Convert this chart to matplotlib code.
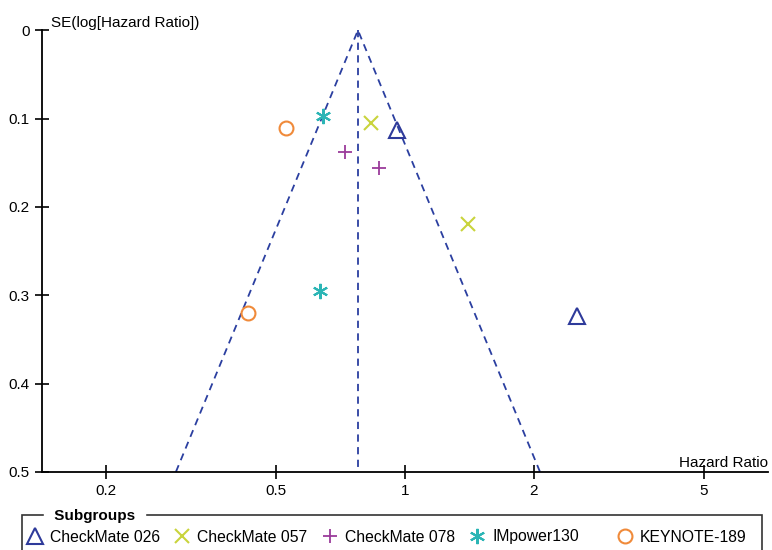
import numpy as np
import matplotlib.pyplot as plt
from matplotlib.patches import Rectangle

plt.rcParams['font.family'] = ['Liberation Sans', 'DejaVu Sans']

# values
groups = ["CheckMate 026", "CheckMate 057", "CheckMate 078", "IMpower130", "KEYNOTE-189"]
hr_026 = [0.958, 2.52]
se_026 = [0.113, 0.324]
hr_057 = [0.832, 1.406]
se_057 = [0.105, 0.219]
hr_078 = [0.723, 0.869]
se_078 = [0.138, 0.156]
hr_imp = [0.642, 0.632]
se_imp = [0.097, 0.295]
hr_key = [0.528, 0.430]
se_key = [0.111, 0.320]
pooled_hr = 0.776
se_max = 0.5

x_ticks = [0.2, 0.5, 1, 2, 5]
y_ticks = [0, 0.1, 0.2, 0.3, 0.4, 0.5]

W, H = 772, 550
fig = plt.figure(figsize=(W / 100, H / 100), dpi=100)
ax = fig.add_axes([0.0544, 0.142, 0.9406, 0.803])

# funnel
line_col = "#2B3FA0"
lo = np.exp(np.log(pooled_hr) - 1.96 * se_max)
hi = np.exp(np.log(pooled_hr) + 1.96 * se_max)
ax.plot([lo, pooled_hr, hi], [se_max, 0, se_max], ls=(0, (4, 3)), color=line_col, lw=1.3)
ax.plot([pooled_hr, pooled_hr], [0, se_max], ls=(0, (4, 3)), color=line_col, lw=1.3)

styles = [
    (hr_026, se_026, "^", "#2E3A9A", dict(mfc="none", ms=11, mew=1.5)),
    (hr_057, se_057, "x", "#C9D43C", dict(ms=10, mew=1.5)),
    (hr_078, se_078, "+", "#9B3B9B", dict(ms=10, mew=1.3)),
    (hr_imp, se_imp, (6, 2, 0), "#2BB5B5", dict(ms=11, mew=1.5)),
    (hr_key, se_key, "o", "#F08A3A", dict(mfc="none", ms=10, mew=1.5)),
]
handles = []
for (hx, sy, mk, col, kw), name in zip(styles, groups):
    h, = ax.plot(hx, sy, ls="none", marker=mk, color=col, label=name, **kw)
    handles.append(h)

ax.set_xscale("log")
ax.set_xlim(1 / 7.06, 7.06)
ax.set_ylim(se_max, 0)
ax.set_xticks(x_ticks)
ax.set_xticklabels([str(t) for t in x_ticks])
ax.minorticks_off()
ax.set_yticks(y_ticks)
ax.set_yticklabels(["0", "0.1", "0.2", "0.3", "0.4", "0.5"])
ax.tick_params(direction="inout", length=10, width=1.2, labelsize=11, pad=4)
for s in ["top", "right"]:
    ax.spines[s].set_visible(False)
for s in ["left", "bottom"]:
    ax.spines[s].set_linewidth(1.3)

ax.text(0.012, 1.0, "SE(log[Hazard Ratio])", transform=ax.transAxes, fontsize=11,
        va="bottom", ha="left")
ax.text(1.0, 0.005, "Hazard Ratio", transform=ax.transAxes, fontsize=11,
        va="bottom", ha="right")

# legend box with the title sitting on its top border
fig.patches.append(Rectangle((22 / W, -0.05), 740 / W, 0.05 + 35 / H, transform=fig.transFigure,
                             fill=False, ec="#333333", lw=1.2))
fig.text(50 / W, 1 - 516 / H, " Subgroups ", fontsize=11, fontweight="bold", va="center",
         ha="left", backgroundcolor="white")
for i, h in enumerate(handles):
    fig.legend(handles=[h], loc="center left", bbox_to_anchor=((27 + 147.5 * i) / W, 1 - 537 / H),
               frameon=False, fontsize=11.3, handlelength=1.0, handletextpad=0.45,
               borderpad=0, borderaxespad=0)

fig.savefig("out.png", dpi=100)
